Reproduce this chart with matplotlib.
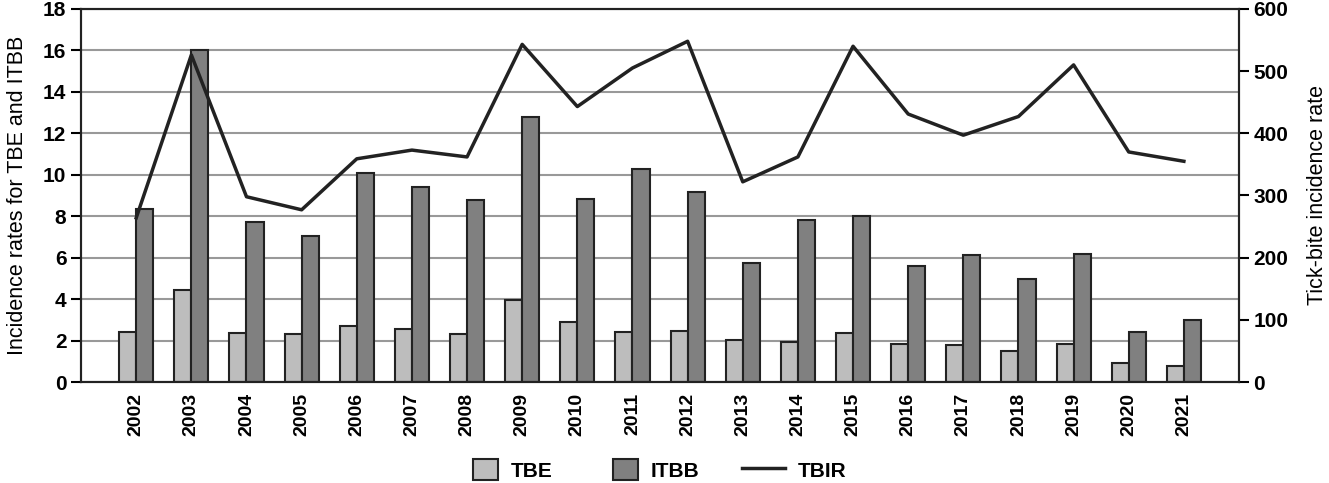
import numpy as np
import matplotlib.pyplot as plt
from matplotlib.legend_handler import HandlerLine2D

plt.rcParams['font.family'] = ['Liberation Sans', 'DejaVu Sans']
plt.rcParams['font.weight'] = 'bold'

years = ['2002', '2003', '2004', '2005', '2006', '2007', '2008', '2009', '2010', '2011',
         '2012', '2013', '2014', '2015', '2016', '2017', '2018', '2019', '2020', '2021']
tbe = [2.4, 4.45, 2.35, 2.3, 2.7, 2.55, 2.3, 3.95, 2.9, 2.4,
       2.45, 2.05, 1.95, 2.35, 1.85, 1.8, 1.5, 1.85, 0.9, 0.78]
itbb = [8.35, 16.0, 7.7, 7.05, 10.1, 9.4, 8.8, 12.78, 8.85, 10.3,
        9.15, 5.75, 7.8, 8.0, 5.6, 6.13, 4.97, 6.2, 2.42, 3.0]
tbir = [264, 526, 298, 277, 359, 373, 362, 543, 443, 505,
        548, 322, 362, 540, 431, 397, 427, 510, 370, 355]

x = np.arange(len(years))
w = 0.31


class LongLine(HandlerLine2D):
    # legend line is longer than the patch boxes, extends to the left
    def create_artists(self, legend, orig_handle, xdescent, ydescent, width, height, fontsize, trans):
        return super().create_artists(legend, orig_handle, xdescent + width * 0.72, ydescent,
                                      width * 1.72, height, fontsize, trans)


fig = plt.figure(figsize=(13.29, 4.83), dpi=100)
ax = fig.add_axes([0.061, 0.209, 0.8713, 0.7725])

ax.set_axisbelow(True)
ax.yaxis.grid(True, color='#999999', linewidth=1.5)
b1 = ax.bar(x - w/2, tbe, w, color='#bdbdbd', edgecolor='#222222', linewidth=1.5, label='TBE')
b2 = ax.bar(x + w/2, itbb, w, color='#808080', edgecolor='#222222', linewidth=1.5, label='ITBB')

ax.set_xlim(-1, len(years))
ax.set_ylim(0, 18)
ax.set_yticks(np.arange(0, 19, 2))
ax.set_xticks(x)
ax.set_xticklabels(years, rotation=90, fontsize=14)
ax.tick_params(axis='x', length=0, pad=8)
ax.tick_params(axis='y', labelsize=15, length=7, width=1.5, direction='out')
ax.set_ylabel('Incidence rates for TBE and ITBB', fontsize=15.5, fontweight='normal', labelpad=11)
for s in ax.spines.values():
    s.set_linewidth(1.5)
    s.set_color('#222222')

ax2 = ax.twinx()
l1, = ax2.plot(x, tbir, color='#222222', linewidth=2.5, label='TBIR')
ax2.set_ylim(0, 600)
ax2.set_yticks(np.arange(0, 601, 100))
ax2.tick_params(axis='y', labelsize=15, length=7, width=1.5, direction='out')
ax2.set_ylabel('Tick-bite incidence rate', fontsize=15.5, fontweight='normal', labelpad=13)
for s in ax2.spines.values():
    s.set_linewidth(1.5)
    s.set_color('#222222')

fig.legend([b1, b2, l1], ['TBE', 'ITBB', 'TBIR'], loc='center', bbox_to_anchor=(0.4965, 0.027),
           ncol=3, frameon=False, fontsize=15, handlelength=1.2, handleheight=1.15,
           columnspacing=2.9, handletextpad=0.62, handler_map={l1: LongLine()})

fig.savefig('out.png', dpi=100)
